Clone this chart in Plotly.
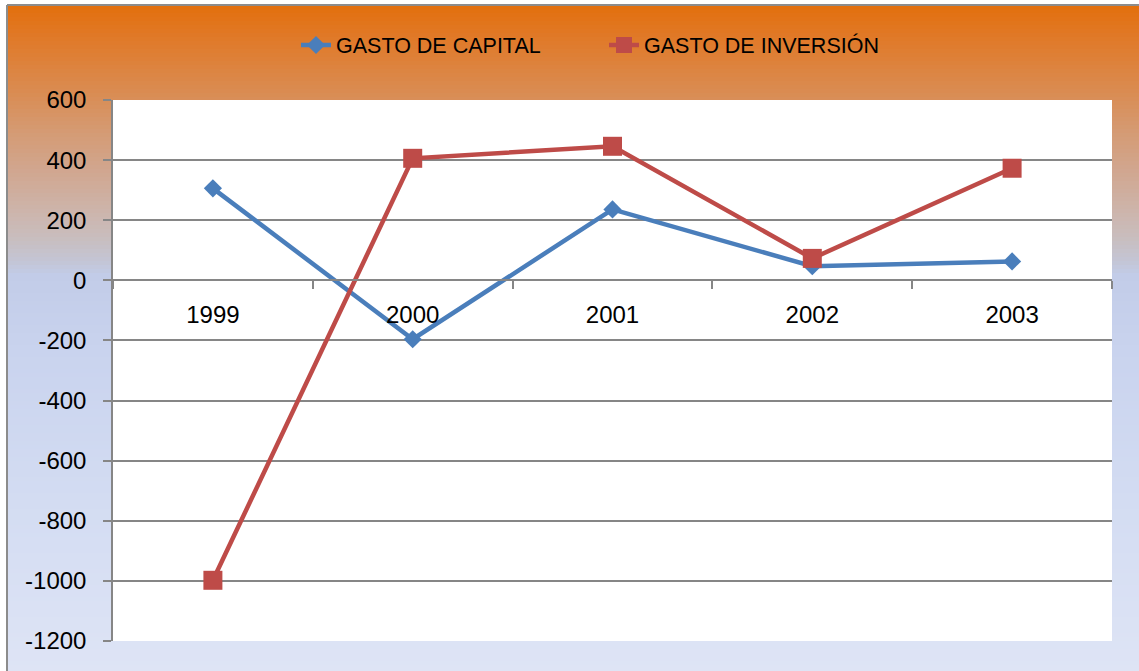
import plotly.graph_objects as go

# Annual figures
years = ["1999", "2000", "2001", "2002", "2003"]
gasto_capital = [306, -196, 236, 47, 63]
gasto_inversion = [-998, 406, 446, 73, 373]

y_ticks = [600, 400, 200, 0, -200, -400, -600, -800, -1000, -1200]

W, H = 1139, 671
L, R, T, B = 113, 27, 100, 30
pw, ph = W - L - R, H - T - B

def px_x(x):
    return (x - L) / pw

def px_y(y):
    return (H - B - y) / ph

# Vertical gradient stops for the chart frame (pixel row, colour)
stops = [
    (5, (227, 111, 12)), (40, (224, 122, 42)), (90, (218, 139, 80)),
    (130, (213, 154, 114)), (170, (209, 166, 143)), (210, (205, 180, 170)),
    (240, (200, 190, 192)), (262, (195, 197, 214)), (275, (194, 204, 232)),
    (350, (201, 211, 238)), (500, (211, 220, 242)), (671, (222, 228, 245)),
]

def colour_at(y):
    for (y0, c0), (y1, c1) in zip(stops, stops[1:]):
        if y0 <= y <= y1:
            t = (y - y0) / (y1 - y0)
            return "rgb(%d,%d,%d)" % tuple(round(a + (b - a) * t) for a, b in zip(c0, c1))
    return "rgb(%d,%d,%d)" % stops[-1][1]

shapes = []
step = 4
for y in range(5, H, step):
    shapes.append(dict(type="rect", xref="paper", yref="paper", layer="below",
                       x0=px_x(7), x1=px_x(W + 5), y0=px_y(min(y + step + 1, H + 2)), y1=px_y(y),
                       fillcolor=colour_at(y + step / 2), line=dict(width=0)))
# Frame border (top and left)
shapes.append(dict(type="line", xref="paper", yref="paper", layer="below",
                   x0=px_x(7), x1=px_x(W + 5), y0=px_y(5), y1=px_y(5),
                   line=dict(color="#8c8c8c", width=2)))
shapes.append(dict(type="line", xref="paper", yref="paper", layer="below",
                   x0=px_x(7), x1=px_x(7), y0=px_y(5), y1=px_y(H + 5),
                   line=dict(color="#8c8c8c", width=2)))
# White plotting area
shapes.append(dict(type="rect", xref="paper", yref="paper", layer="below",
                   x0=0, x1=1, y0=0, y1=1, fillcolor="white", line=dict(width=0)))

fig = go.Figure()
fig.add_trace(go.Scatter(
    x=years, y=gasto_capital, name="GASTO DE CAPITAL", mode="lines+markers",
    line=dict(color="#4a7ebb", width=4.5),
    marker=dict(symbol="diamond", size=14, color="#4a7ebb"),
))
fig.add_trace(go.Scatter(
    x=years, y=gasto_inversion, name="GASTO DE INVERSIÓN", mode="lines+markers",
    line=dict(color="#be4b48", width=4.5),
    marker=dict(symbol="square", size=19, color="#be4b48"),
))

ymin, ymax = -1200, 600
font_family = "Liberation Sans, Arial, sans-serif"

fig.update_layout(
    width=W, height=H,
    margin=dict(l=L, r=R, t=T, b=B, pad=0),
    paper_bgcolor="white", plot_bgcolor="white",
    shapes=shapes,
    font=dict(family=font_family, size=24, color="black"),
    showlegend=True,
    legend=dict(orientation="h", x=px_x(296), y=px_y(45), xanchor="left", yanchor="middle",
                font=dict(size=21.5, color="black"), bgcolor="rgba(0,0,0,0)",
                entrywidth=263, entrywidthmode="pixels", itemwidth=30),
    xaxis=dict(
        type="category", range=[-0.5, 4.5], anchor="free",
        position=(0 - ymin) / (ymax - ymin),
        showline=True, linecolor="#868686", linewidth=1.5,
        ticks="outside", tickson="boundaries", ticklen=8, tickcolor="#868686", tickwidth=1.5,
        showgrid=False, ticklabelstandoff=13,
        tickfont=dict(size=24, color="black"),
    ),
    yaxis=dict(
        range=[ymin, ymax], tickvals=y_ticks, ticktext=[str(v) for v in y_ticks],
        showline=True, linecolor="#868686", linewidth=1.5,
        ticks="outside", ticklen=8, tickcolor="#868686", tickwidth=1.5,
        showgrid=True, gridcolor="#868686", gridwidth=1.5, zeroline=False,
        ticklabelstandoff=12,
        tickfont=dict(size=24, color="black"),
    ),
)

fig.write_html("out.html")
